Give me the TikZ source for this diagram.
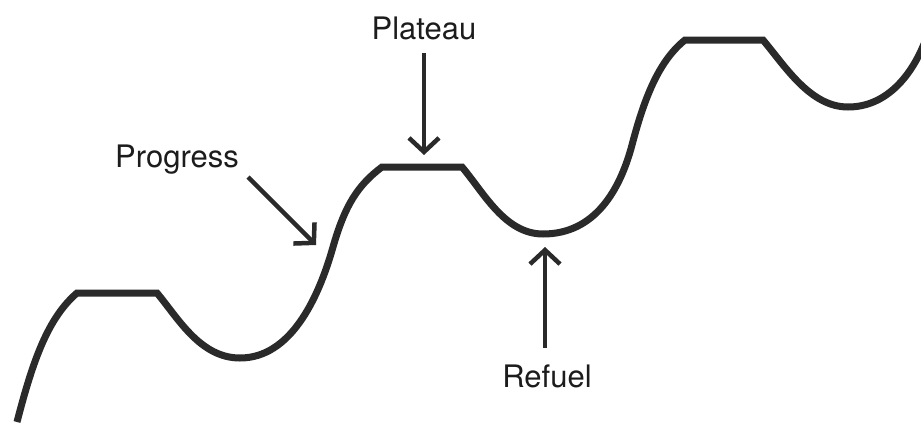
\documentclass[tikz,border=0pt]{standalone}
\usepackage{fontspec}
\setmainfont{TeX Gyre Heros}
\usetikzlibrary{arrows.meta}
\definecolor{ink}{HTML}{2A2A2A}
\definecolor{txt}{HTML}{1C1C1C}
\tikzset{
  wave/.style={draw=ink, line width=7pt, line join=miter, line cap=butt},
  pointer/.style={draw=ink, line width=4.5pt,
    -{Straight Barb[length=14pt,width=30pt,line width=4.5pt]}},
  caption/.style={text=txt, inner sep=0pt, anchor=base,
    font=\fontsize{31}{36}\selectfont}
}
\begin{document}
\begin{tikzpicture}[x=1pt,y=-1pt]
  \useasboundingbox[fill=white] (0,0) rectangle (921,426);

  % the rising wave: steep climbs, flat plateaus, dips to refuel
  \draw[wave]
    (17,422) .. controls (33,360) and (48,318) .. (77,293)
    -- (157,293)
    .. controls (178,318) and (200,358) .. (240,358)
    .. controls (290,358) and (318,300) .. (333,247)
    .. controls (345,205) and (358,185) .. (382,167)
    -- (462,167)
    .. controls (484,193) and (505,234) .. (543,234)
    .. controls (595,234) and (620,190) .. (632,145)
    .. controls (645,95) and (660,60) .. (685,40)
    -- (763,40)
    .. controls (785,66) and (810,107) .. (848,107)
    .. controls (885,107) and (910,78) .. (924,44);

  % labels
  \node[caption] (plateau)  at (424,39)  {Plateau};
  \node[caption] (progress) at (177,167) {Progress};
  \node[caption] (refuel)   at (547,387) {Refuel};

  % arrow end points
  \coordinate (plateauTop) at (424,53);
  \coordinate (plateauTip) at (424,155);
  \coordinate (progressTail) at (248,177);
  \coordinate (progressTip) at (316,245);
  \coordinate (refuelTail) at (545,348);
  \coordinate (refuelTip) at (545,247);

  \draw[pointer] (plateauTop) -- (plateauTip);
  \draw[pointer] (progressTail) -- (progressTip);
  \draw[pointer] (refuelTail) -- (refuelTip);
\end{tikzpicture}
\end{document}
